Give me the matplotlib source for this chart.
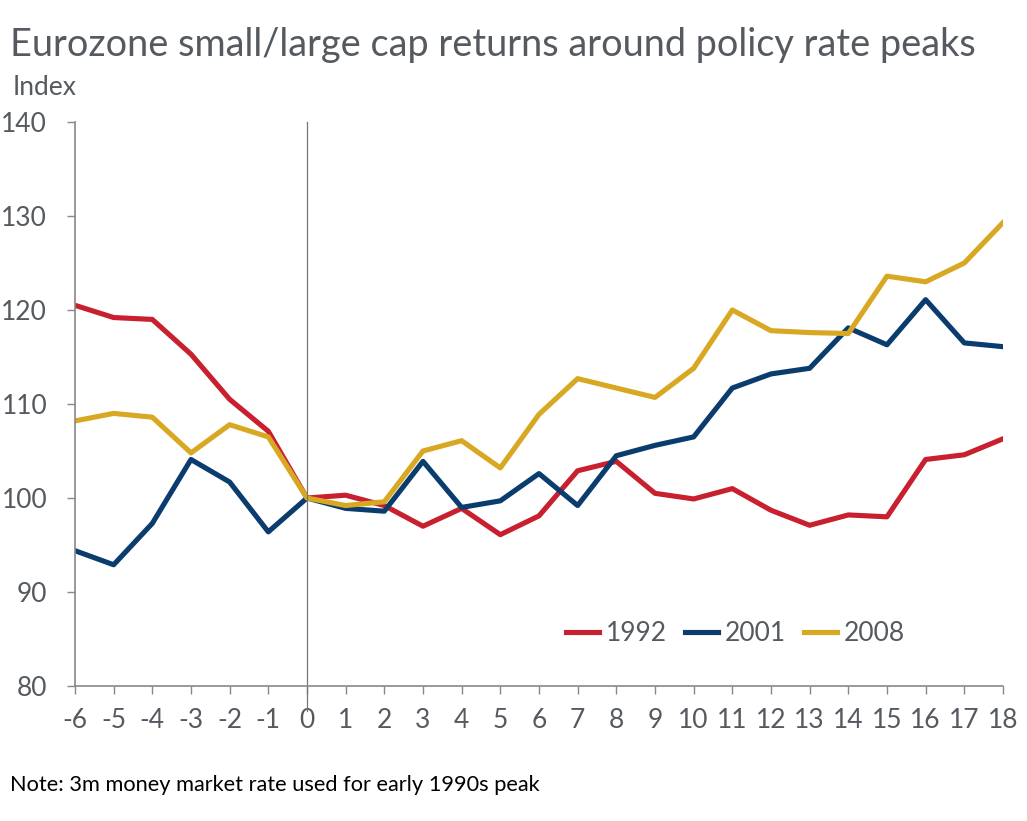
import matplotlib.pyplot as plt
import numpy as np

plt.rcParams['font.family'] = ['Lato', 'DejaVu Sans']
plt.rcParams['axes.unicode_minus'] = False

months = np.arange(-6, 19)
r1992 = [120.5, 119.2, 119.0, 115.3, 110.5, 107.1, 100.0, 100.3, 99.2, 97.0, 98.9, 96.1, 98.1,
         102.9, 103.9, 100.5, 99.9, 101.0, 98.7, 97.1, 98.2, 98.0, 104.1, 104.6, 106.3]
r2001 = [94.4, 92.9, 97.3, 104.1, 101.7, 96.4, 100.0, 98.9, 98.6, 103.9, 99.0, 99.7, 102.6,
         99.2, 104.5, 105.6, 106.5, 111.7, 113.2, 113.8, 118.1, 116.3, 121.1, 116.5, 116.1]
r2008 = [108.2, 109.0, 108.6, 104.8, 107.8, 106.5, 100.0, 99.2, 99.6, 105.0, 106.1, 103.2, 108.9,
         112.7, 111.7, 110.7, 113.8, 120.0, 117.8, 117.6, 117.5, 123.6, 123.0, 125.0, 129.3]

grey = '#555a60'
fig = plt.figure(figsize=(10.27, 8.21), dpi=100)
ax = fig.add_axes([0.073, 0.1644, 0.9036, 0.687])

ax.plot(months, r1992, color='#C8202F', lw=3.7, label='1992')
ax.plot(months, r2001, color='#0B3C6E', lw=3.7, label='2001')
ax.plot(months, r2008, color='#D9A823', lw=3.7, label='2008')

ax.axvline(0, ymin=-0.045, ymax=1, color='#777777', lw=0.9, clip_on=False)

ax.set_xlim(-6, 18)
ax.set_ylim(80, 140)
ax.set_xticks(months)
ax.set_yticks(np.arange(80, 141, 10))
for s in ['top', 'right']:
    ax.spines[s].set_visible(False)
for s in ['left', 'bottom']:
    ax.spines[s].set_color('#888888')
    ax.spines[s].set_linewidth(1.2)
ax.tick_params(colors='#888888', labelcolor=grey, labelsize=19, length=6, width=1)
ax.tick_params(axis='x', pad=10)
ax.tick_params(axis='y', pad=14)

ax.legend(loc='lower right', bbox_to_anchor=(0.92, 0.028), ncol=3, frameon=False,
          fontsize=19, handlelength=1.25, columnspacing=0.7, handletextpad=0.25,
          labelcolor=grey)

fig.text(0.01, 0.945, 'Eurozone small/large cap returns around policy rate peaks',
         fontsize=27.3, color=grey, va='center')
fig.text(0.012, 0.893, 'Index', fontsize=19, color=grey, va='center')
fig.text(0.01, 0.044, 'Note: 3m money market rate used for early 1990s peak',
         fontsize=15.7, color='black', va='center')

fig.savefig('out.png', dpi=100)
